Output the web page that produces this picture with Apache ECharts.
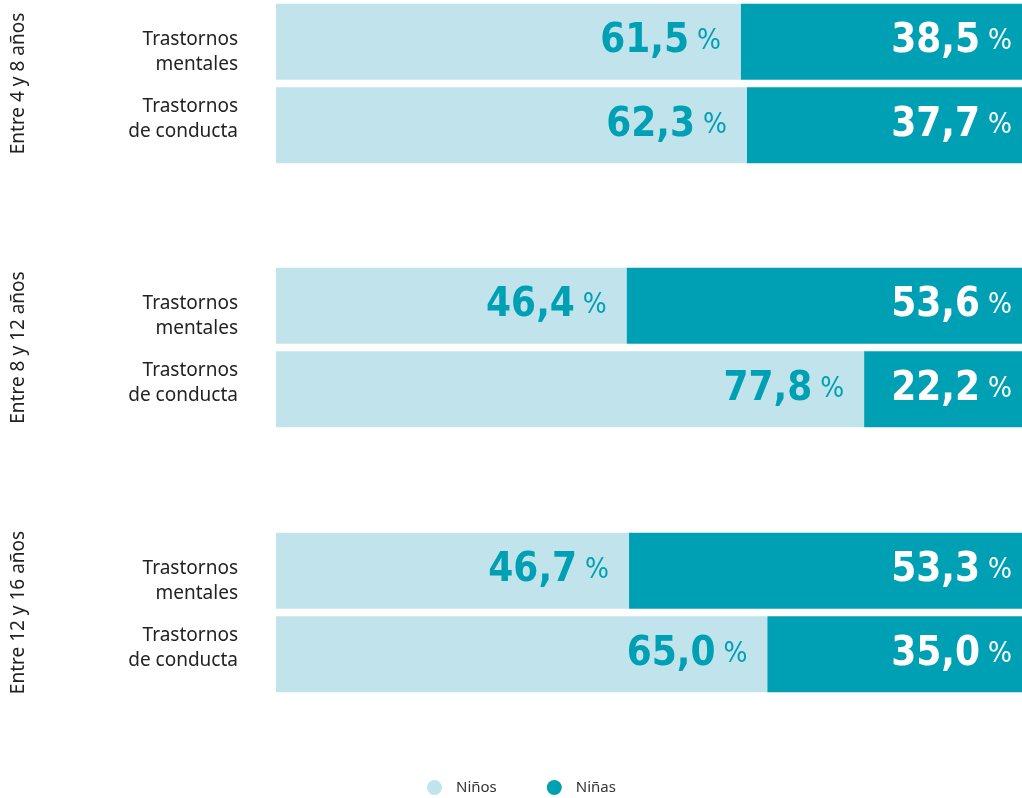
<!DOCTYPE html>
<html>
<head>
<meta charset="utf-8">
<script src="https://cdn.jsdelivr.net/npm/echarts@6/dist/echarts.min.js"></script>
<style>
  html, body { margin: 0; padding: 0; background: #fff; }
  #main { width: 1022px; height: 798px; }
</style>
</head>
<body>
<div id="main"></div>
<script>
// datos
var grupos = ['Entre 4 y 8 años', 'Entre 8 y 12 años', 'Entre 12 y 16 años'];
var categorias = ['Trastornos\nmentales', 'Trastornos\nde conducta'];
var ninos = [[61.5, 62.3], [46.4, 77.8], [46.7, 65.0]];
var ninas = [[38.5, 37.7], [53.6, 22.2], [53.3, 35.0]];

var CLARO = '#c1e3eb';
var OSCURO = '#00a0b4';
var condensed = '"Liberation Sans Narrow", "DejaVu Sans Condensed", sans-serif';
var sans = '"Noto Sans", Lato, sans-serif';

function fmt(v) {
    return '{n|' + v.toFixed(1).replace('.', ',') + '}{p| %}';
}
function richLabel(color, dist) {
    return {
        show: true,
        position: 'insideRight',
        distance: dist,
        formatter: function (p) { return fmt(p.value); },
        rich: {
            n: { fontFamily: condensed, fontWeight: 'bold', fontSize: 40, color: color },
            p: { fontFamily: condensed, fontSize: 28, color: color }
        }
    };
}

var chart = echarts.init(document.getElementById('main'));
var tops = [0, 264, 529];
var grid = [], xAxis = [], yAxis = [], series = [];

grupos.forEach(function (g, i) {
    grid.push({ left: 276, width: 756, top: tops[i], height: 167, outerBoundsMode: 'none' });
    xAxis.push({ gridIndex: i, type: 'value', min: 0, max: 100, show: false });
    yAxis.push({
        gridIndex: i,
        type: 'category',
        inverse: true,
        data: categorias,
        axisLine: { show: false },
        axisTick: { show: false },
        axisLabel: {
            margin: 38,
            align: 'right',
            // la primera fila baja un poco, la segunda sube
            formatter: function (v, idx) {
                var l = v.split('\n');
                var s = '{a|' + l[0] + '}\n{a|' + l[1] + '}';
                return idx === 0 ? '{s| }\n' + s : s + '\n{t| }';
            },
            rich: {
                a: { fontFamily: sans, fontSize: 19, lineHeight: 25, color: '#222', align: 'right' },
                s: { fontSize: 10, lineHeight: 20 },
                t: { fontSize: 10, lineHeight: 13 }
            }
        },
        name: g,
        nameLocation: 'middle',
        nameRotate: 90,
        nameGap: 248,
        nameTextStyle: { fontFamily: sans, fontSize: 19, color: '#222' }
    });
    series.push({
        name: 'Niños', type: 'bar', stack: 's' + i,
        xAxisIndex: i, yAxisIndex: i,
        barWidth: 76,
        itemStyle: { color: CLARO },
        label: richLabel(OSCURO, 20),
        data: ninos[i]
    });
    series.push({
        name: 'Niñas', type: 'bar', stack: 's' + i,
        xAxisIndex: i, yAxisIndex: i,
        barWidth: 76,
        itemStyle: { color: OSCURO },
        label: richLabel('#ffffff', 20),
        data: ninas[i]
    });
});

chart.setOption({
    animation: false,
    legend: {
        data: ['Niños', 'Niñas'],
        bottom: -2,
        left: 422,
        icon: 'circle',
        itemWidth: 15,
        itemHeight: 15,
        itemGap: 50,
        textStyle: { fontFamily: sans, fontSize: 15, color: '#333', padding: [0, 0, 0, 9] }
    },
    grid: grid,
    xAxis: xAxis,
    yAxis: yAxis,
    series: series
});
</script>
</body>
</html>
